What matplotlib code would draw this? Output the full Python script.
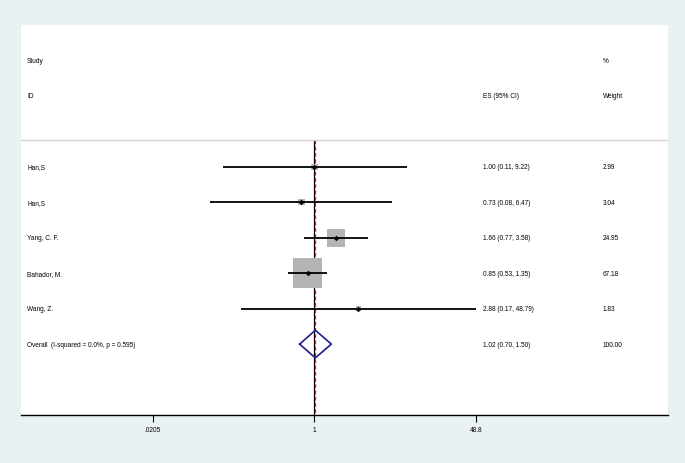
import numpy as np
import matplotlib.pyplot as plt

plt.rcParams['font.family'] = ['Liberation Sans', 'DejaVu Sans']

# Data
studies = ["Han,S", "Han,S", "Yang, C. F.", "Bahador, M.", "Wang, Z."]
es = [1.00, 0.73, 1.66, 0.85, 2.88]
lo = [0.11, 0.08, 0.77, 0.53, 0.17]
hi = [9.22, 6.47, 3.58, 1.35, 48.79]
weights = [2.99, 3.04, 24.95, 67.18, 1.83]
overall = (1.02, 0.70, 1.50)
overall_label = "Overall  (I-squared = 0.0%, p = 0.595)"
xticks = [0.0205, 1, 48.8]
xtick_labels = [".0205", "1", "48.8"]

W, H = 685, 464
fig = plt.figure(figsize=(W / 100, H / 100), dpi=100, facecolor="#EAF1F3")
ax = fig.add_axes([21 / W, (H - 416) / H, (668 - 21) / W, (416 - 26) / H])
ax.set_facecolor("white")
ax.set_xscale("log")
ax.set_xlim(10 ** -3.067, 10 ** 3.694)
ax.set_ylim(7.0, -4.0)

for s in ["top", "left", "right"]:
    ax.spines[s].set_visible(False)
ax.spines["bottom"].set_linewidth(1.0)
ax.set_yticks([])
ax.set_xticks(xticks)
ax.set_xticklabels(xtick_labels)
ax.minorticks_off()
ax.tick_params(axis="x", direction="out", length=5, width=0.8, labelsize=4.7, pad=3)

fs = 4.7
tr = ax.get_yaxis_transform()
def xf(px):
    return (px - 21) / (668 - 21)

# header
ax.text(xf(27), -3, "Study", fontsize=fs, va="center", transform=tr)
ax.text(xf(27), -2, "ID", fontsize=fs, va="center", transform=tr)
ax.text(xf(483), -2, "ES (95% CI)", fontsize=fs, va="center", transform=tr)
ax.text(xf(603), -3, "%", fontsize=fs, va="center", transform=tr)
ax.text(xf(603), -2, "Weight", fontsize=fs, va="center", transform=tr)
ax.axhline(-0.76, color="#D4D4D4", lw=1.0)

# reference lines
ax.plot([1, 1], [-0.76, 7.0], color="black", lw=0.9, zorder=1)
ax.plot([overall[0], overall[0]], [-0.76, 7.0], color="#A0303A", lw=0.9,
        ls=(0, (3, 2)), zorder=1)

ypos = np.arange(len(studies))
sides = 29.5 * np.sqrt(np.array(weights) / max(weights)) * 0.72
ax.scatter(es, ypos, marker="s", s=sides ** 2, color="#B4B4B4", lw=0, zorder=2)
ax.hlines(ypos, lo, hi, color="black", lw=1.3, zorder=3)
ax.scatter(es, ypos, marker="D", s=8, color="black", lw=0, zorder=4)

for i in range(len(studies)):
    ax.text(xf(27), ypos[i], studies[i], fontsize=fs, va="center", transform=tr)
    ax.text(xf(483), ypos[i], f"{es[i]:.2f} ({lo[i]:.2f}, {hi[i]:.2f})",
            fontsize=fs, va="center", transform=tr)
    ax.text(xf(603), ypos[i], f"{weights[i]:.2f}", fontsize=fs, va="center", transform=tr)

# overall diamond
yo = len(studies)
e, l, h = overall
ax.plot([l, e, h, e, l], [yo, yo - 0.39, yo, yo + 0.39, yo], color="#1E1E8C", lw=1.2, zorder=3)
ax.text(xf(27), yo, overall_label, fontsize=fs, va="center", transform=tr)
ax.text(xf(483), yo, f"{e:.2f} ({l:.2f}, {h:.2f})", fontsize=fs, va="center", transform=tr)
ax.text(xf(603), yo, "100.00", fontsize=fs, va="center", transform=tr)

fig.savefig("out.png", dpi=100, facecolor=fig.get_facecolor())
